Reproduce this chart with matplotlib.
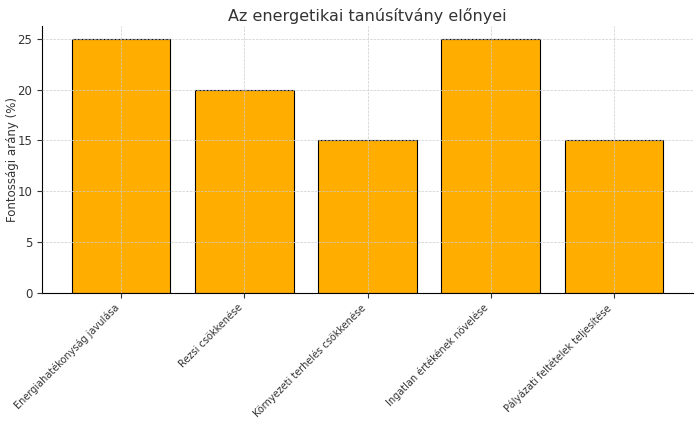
import matplotlib.pyplot as plt

categories = [
    'Energiahatékonyság javulása',
    'Rezsi csökkenése',
    'Környezeti terhelés csökkenése',
    'Ingatlan értékének növelése',
    'Pályázati feltételek teljesítése',
]
values = [25, 20, 15, 25, 15]

fig = plt.figure(figsize=(7, 4.22), dpi=100)
ax = fig.add_axes([0.06, 0.306, 0.93, 0.632])

ax.bar(categories, values, color='#FFAE00', edgecolor='black', linewidth=0.8, width=0.8)
ax.set_title('Az energetikai tanúsítvány előnyei', fontsize=11.5, color='#333333', pad=4)
ax.set_ylabel('Fontossági arány (%)', fontsize=8.5, color='#333333', labelpad=-1)
ax.set_ylim(0, 26.25)
ax.set_yticks([0, 5, 10, 15, 20, 25])
ax.tick_params(axis='y', labelsize=8.5, colors='#333333')
ax.tick_params(axis='x', labelsize=7, colors='#333333')
plt.setp(ax.get_xticklabels(), rotation=45, ha='right')

ax.grid(True, linestyle='--', linewidth=0.5, color='#cccccc')
ax.set_axisbelow(False)
ax.spines['top'].set_visible(False)
ax.spines['right'].set_visible(False)

fig.savefig('out.png', dpi=100, facecolor='white')
